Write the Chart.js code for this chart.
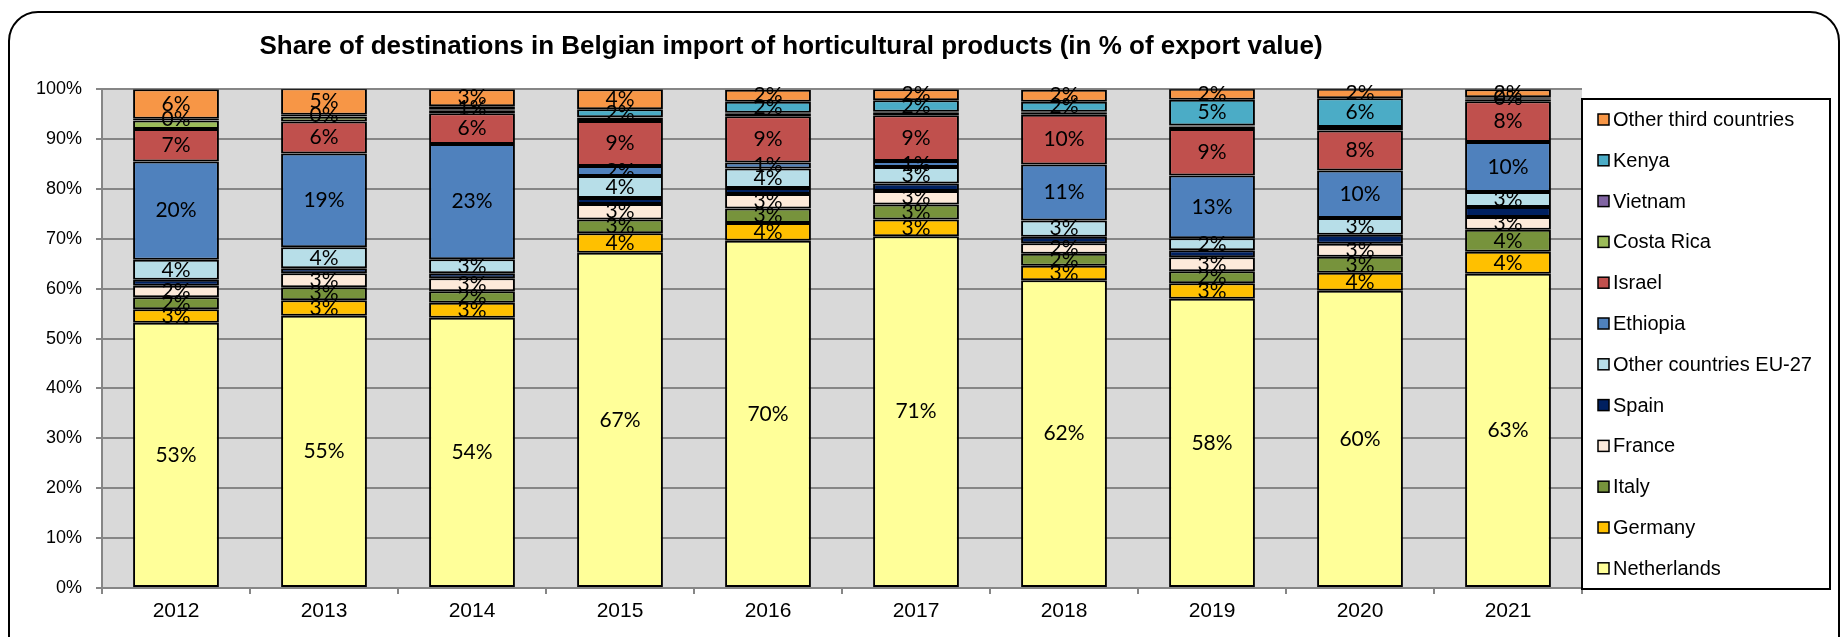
<!DOCTYPE html>
<html>
<head>
<meta charset="utf-8">
<script src="https://cdn.jsdelivr.net/npm/chart.js@4.4.1/dist/chart.umd.min.js"></script>
<style>
  html, body { margin: 0; padding: 0; background: #fff; }
  #wrap { position: relative; width: 1847px; height: 637px; overflow: hidden; }
  #marco { position: absolute; left: 8px; top: 11px; width: 1832px; height: 660px;
           border: 2px solid #000; border-radius: 30px; box-sizing: border-box; }
  canvas { position: absolute; left: 0; top: 0; }
</style>
</head>
<body>
<div id="wrap">
  <div id="marco"></div>
  <canvas id="grafico" width="1847" height="637"></canvas>
</div>
<script>
/* ============ DATOS ============ */
const years = ["2012", "2013", "2014", "2015", "2016", "2017", "2018", "2019", "2020", "2021"];
const yTicks = [0, 10, 20, 30, 40, 50, 60, 70, 80, 90, 100];

const netherlands = [53.2, 54.6, 54.2, 67.2, 69.6, 70.5, 61.7, 58.0, 59.6, 63.0];
const germany     = [2.7, 3.1, 3.0, 3.9, 3.6, 3.4, 2.9, 3.1, 3.6, 4.4];
const italy       = [2.4, 2.6, 2.3, 2.8, 2.9, 3.0, 2.4, 2.4, 3.2, 4.4];
const france      = [2.3, 2.8, 2.6, 3.1, 2.9, 2.7, 2.1, 2.8, 2.6, 2.6];
const spain       = [1.2, 1.0, 1.0, 1.2, 1.2, 1.5, 1.3, 1.4, 1.8, 2.0];
const otherEU27   = [4.0, 4.2, 2.8, 4.4, 3.9, 3.3, 3.3, 2.4, 3.4, 3.0];
const ethiopia    = [19.7, 18.8, 23.1, 2.0, 1.2, 1.2, 11.2, 12.6, 9.5, 10.0];
const israel      = [6.5, 6.4, 6.2, 9.0, 9.3, 9.2, 10.0, 9.3, 8.0, 8.2];
const costaRica   = [1.7, 1.0, 0.6, 0.7, 0.5, 0.5, 0.4, 0.5, 0.5, 0.3];
const vietnam     = [0.1, 0.1, 0.1, 0.1, 0.2, 0.2, 0.2, 0.2, 0.2, 0.2];
const kenya       = [0.3, 0.3, 0.7, 1.6, 2.2, 2.3, 2.0, 5.2, 5.8, 0.3];
const otherThird  = [5.9, 5.3, 3.4, 4.0, 2.4, 2.2, 2.4, 2.2, 1.9, 1.6];

/* ============ SERIES ============ */
const series = [
  { label: "Netherlands", data: netherlands, color: "#FFFF99", etiqueta: true },
  { label: "Germany", data: germany, color: "#FFC000", etiqueta: true },
  { label: "Italy", data: italy, color: "#77933C", etiqueta: true },
  { label: "France", data: france, color: "#FDEADA", etiqueta: true },
  { label: "Spain", data: spain, color: "#002060", etiqueta: false },
  { label: "Other countries EU-27", data: otherEU27, color: "#B7DEE8", etiqueta: true },
  { label: "Ethiopia", data: ethiopia, color: "#4F81BD", etiqueta: true },
  { label: "Israel", data: israel, color: "#C0504D", etiqueta: true },
  { label: "Costa Rica", data: costaRica, color: "#9BBB59", etiqueta: false },
  { label: "Vietnam", data: vietnam, color: "#8064A2", etiqueta: false },
  { label: "Kenya", data: kenya, color: "#4BACC6", etiqueta: true },
  { label: "Other third countries", data: otherThird, color: "#F79646", etiqueta: true }
];

const FUENTE = "'Liberation Sans', Arial, sans-serif";

/* ============ PLUGINS ============ */
// fondo gris del área de trazado
const fondo = {
  id: "fondo",
  beforeDraw(chart) {
    const { ctx, chartArea: a } = chart;
    ctx.save();
    ctx.fillStyle = "#D9D9D9";
    ctx.fillRect(a.left, a.top, a.right - a.left, a.bottom - a.top);
    ctx.restore();
  }
};

// etiquetas de porcentaje dentro de las barras
const etiquetas = {
  id: "etiquetas",
  afterDatasetsDraw(chart) {
    const ctx = chart.ctx;
    ctx.save();
    ctx.font = "21px Lato, sans-serif";
    ctx.fillStyle = "#000";
    ctx.textAlign = "center";
    ctx.textBaseline = "middle";
    chart.data.datasets.forEach((ds, i) => {
      if (!ds.etiqueta) return;
      chart.getDatasetMeta(i).data.forEach((bar, j) => {
        const { x, y, base } = bar.getProps(["x", "y", "base"], true);
        ctx.fillText(Math.round(ds.data[j]) + "%", x, (y + base) / 2);
      });
    });
    ctx.restore();
  }
};

// leyenda con marco, a la derecha
const leyenda = {
  id: "leyenda",
  afterDraw(chart) {
    const ctx = chart.ctx;
    const a = chart.chartArea;
    const left = a.right, top = 99, width = 248, height = 490;
    ctx.save();
    ctx.fillStyle = "#fff";
    ctx.fillRect(left, top, width, height);
    ctx.strokeStyle = "#000";
    ctx.lineWidth = 2;
    ctx.strokeRect(left, top, width, height);
    ctx.font = "20px " + FUENTE;
    ctx.textBaseline = "middle";
    ctx.textAlign = "left";
    const items = chart.data.datasets.slice().reverse();
    items.forEach((ds, i) => {
      const cy = 119.5 + i * 40.8;
      ctx.fillStyle = ds.backgroundColor;
      ctx.fillRect(left + 16, cy - 5.5, 11, 11);
      ctx.lineWidth = 1.5;
      ctx.strokeStyle = "#000";
      ctx.strokeRect(left + 16, cy - 5.5, 11, 11);
      ctx.fillStyle = "#000";
      ctx.fillText(ds.label, left + 31, cy + 1);
    });
    ctx.restore();
  }
};

/* ============ GRÁFICA ============ */
new Chart(document.getElementById("grafico"), {
  type: "bar",
  data: {
    labels: years,
    datasets: series.map(s => ({
      label: s.label,
      data: s.data,
      etiqueta: s.etiqueta,
      backgroundColor: s.color,
      borderColor: "#000",
      borderWidth: 2,
      borderSkipped: false,
      categoryPercentage: 1,
      barPercentage: 0.58
    }))
  },
  options: {
    responsive: false,
    animation: false,
    devicePixelRatio: 1,
    layout: { padding: { left: 0, right: 265, top: 0, bottom: 0 } },
    plugins: {
      legend: { display: false },
      tooltip: { enabled: false },
      title: {
        display: true,
        text: "Share of destinations in Belgian import of horticultural products (in % of export value)",
        color: "#000",
        font: { family: FUENTE, size: 26, weight: "bold" },
        padding: { top: 31, bottom: 27 }
      }
    },
    scales: {
      x: {
        stacked: true,
        afterFit(scale) { scale.height = 49; },
        grid: { drawOnChartArea: false, drawTicks: true, tickLength: 6, color: "#868686", lineWidth: 2 },
        border: { display: true, color: "#868686", width: 2 },
        ticks: { color: "#000", padding: 5, font: { family: FUENTE, size: 21 } }
      },
      y: {
        stacked: true,
        min: 0,
        max: 100,
        afterFit(scale) { scale.width = 102; },
        afterBuildTicks(scale) { scale.ticks = yTicks.map(v => ({ value: v })); },
        grid: { color: "#868686", lineWidth: 2, tickLength: 6, drawTicks: true },
        border: { display: true, color: "#868686", width: 2 },
        ticks: {
          color: "#000",
          padding: 14,
          font: { family: FUENTE, size: 18 },
          callback: v => v + "%"
        }
      }
    }
  },
  plugins: [fondo, etiquetas, leyenda]
});
</script>
</body>
</html>
